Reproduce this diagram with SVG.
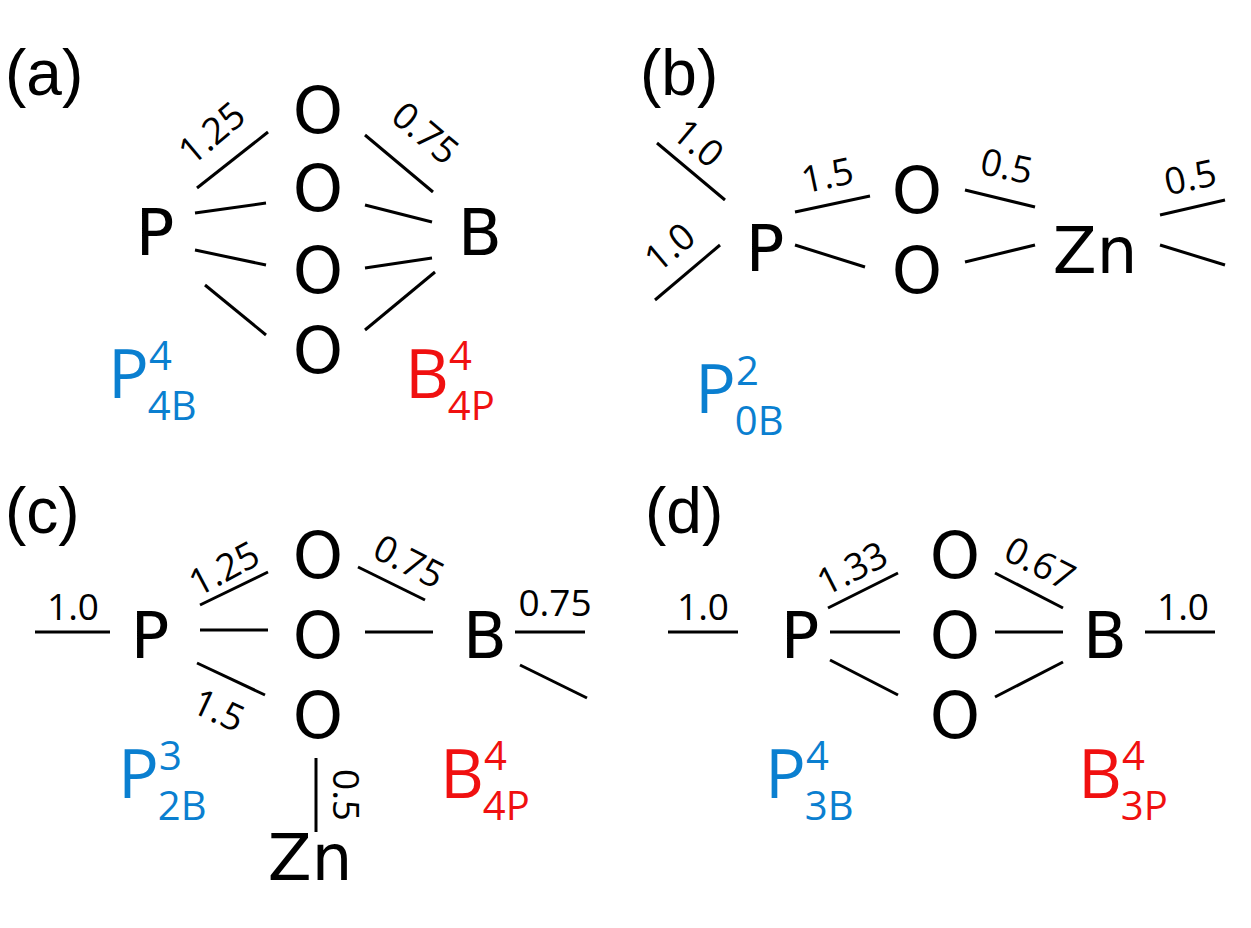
<svg xmlns="http://www.w3.org/2000/svg" width="1251" height="928" viewBox="0 0 1251 928">
<style>
.a{font-family:"DejaVu Sans","Liberation Sans",sans-serif;font-size:64px;fill:#000;text-anchor:middle}
.t{font-family:"Liberation Sans",sans-serif;font-size:64px;fill:#000}
.n{font-family:"Open Sans","Liberation Sans",sans-serif;font-size:37px;fill:#000;text-anchor:middle}
.bl{fill:#0a7fd0}.rd{fill:#f01010}
.lab{font-family:"Open Sans","Liberation Sans",sans-serif;font-size:68px}
.sub{font-size:40px}
line{stroke:#000;stroke-width:3}
</style>
<g id="panel-labels">
<text class="t" x="5" y="95">(a)</text>
<text class="t" x="640" y="95">(b)</text>
<text class="t" x="5" y="533">(c)</text>
<text class="t" x="645" y="533">(d)</text>
</g>
<g id="nodes-a">
<text class="a" x="318" y="133">O</text><text class="a" x="318" y="211">O</text>
<text class="a" x="318" y="293">O</text><text class="a" x="318" y="373">O</text>
<text class="a" x="155" y="255">P</text><text class="a" x="480" y="255">B</text>
<text class="lab bl" x="108" y="398">P<tspan class="sub" dy="-28">4</tspan><tspan class="sub" dx="-24" dy="50">4B</tspan></text>
<text class="lab rd" x="405" y="398">B<tspan class="sub" dy="-28">4</tspan><tspan class="sub" dx="-24" dy="50">4P</tspan></text>
</g>
<g id="nodes-b">
<text class="a" x="765" y="271">P</text><text class="a" x="917" y="213">O</text>
<text class="a" x="917" y="293">O</text><text class="a" x="1095" y="273">Zn</text>
<text class="lab bl" x="695" y="413">P<tspan class="sub" dy="-28">2</tspan><tspan class="sub" dx="-24" dy="50">0B</tspan></text>
</g>
<g id="nodes-c">
<text class="a" x="150" y="658">P</text><text class="a" x="318" y="578">O</text>
<text class="a" x="318" y="658">O</text><text class="a" x="318" y="738">O</text>
<text class="a" x="485" y="658">B</text><text class="a" x="310" y="880">Zn</text>
<text class="lab bl" x="118" y="798">P<tspan class="sub" dy="-28">3</tspan><tspan class="sub" dx="-24" dy="50">2B</tspan></text>
<text class="lab rd" x="440" y="798">B<tspan class="sub" dy="-28">4</tspan><tspan class="sub" dx="-24" dy="50">4P</tspan></text>
</g>
<g id="nodes-d">
<text class="a" x="800" y="658">P</text><text class="a" x="955" y="578">O</text>
<text class="a" x="955" y="658">O</text><text class="a" x="955" y="738">O</text>
<text class="a" x="1105" y="658">B</text>
<text class="lab bl" x="765" y="798">P<tspan class="sub" dy="-28">4</tspan><tspan class="sub" dx="-24" dy="50">3B</tspan></text>
<text class="lab rd" x="1078" y="798">B<tspan class="sub" dy="-28">4</tspan><tspan class="sub" dx="-24" dy="50">3P</tspan></text>
</g>
<g id="connectors">
<line x1="197" y1="188" x2="268" y2="132"/><line x1="195" y1="213" x2="266" y2="203"/>
<line x1="195" y1="250" x2="266" y2="265"/><line x1="205" y1="285" x2="266" y2="335"/>
<line x1="365" y1="135" x2="433" y2="192"/><line x1="365" y1="205" x2="432" y2="222"/>
<line x1="365" y1="268" x2="432" y2="258"/><line x1="365" y1="330" x2="435" y2="272"/>
<line x1="657" y1="143" x2="725" y2="200"/><line x1="655" y1="300" x2="720" y2="245"/>
<line x1="795" y1="212" x2="870" y2="196"/><line x1="795" y1="245" x2="865" y2="267"/>
<line x1="965" y1="190" x2="1035" y2="207"/><line x1="965" y1="262" x2="1035" y2="245"/>
<line x1="1160" y1="215" x2="1225" y2="200"/><line x1="1160" y1="245" x2="1225" y2="265"/>
<line x1="35" y1="632" x2="110" y2="632"/><line x1="200" y1="605" x2="268" y2="572"/>
<line x1="200" y1="630" x2="268" y2="630"/><line x1="197" y1="663" x2="265" y2="695"/>
<line x1="358" y1="567" x2="425" y2="600"/><line x1="365" y1="632" x2="433" y2="632"/>
<line x1="515" y1="632" x2="585" y2="632"/><line x1="520" y1="665" x2="587" y2="698"/>
<line x1="316" y1="758" x2="316" y2="832"/>
<line x1="668" y1="632" x2="738" y2="632"/><line x1="828" y1="608" x2="898" y2="573"/>
<line x1="830" y1="632" x2="900" y2="632"/><line x1="830" y1="660" x2="898" y2="695"/>
<line x1="995" y1="573" x2="1063" y2="608"/><line x1="995" y1="632" x2="1063" y2="632"/>
<line x1="995" y1="697" x2="1063" y2="662"/><line x1="1145" y1="632" x2="1215" y2="632"/>
</g>
<g id="edge-labels">
<text class="n" transform="translate(220,143) rotate(-40)">1.25</text>
<text class="n" transform="translate(417,143) rotate(40)">0.75</text>
<text class="n" transform="translate(690,153) rotate(40)">1.0</text>
<text class="n" transform="translate(678,257) rotate(-40)">1.0</text>
<text class="n" transform="translate(830,188) rotate(-12)">1.5</text>
<text class="n" transform="translate(1004,179) rotate(12)">0.5</text>
<text class="n" transform="translate(1193,190) rotate(-12)">0.5</text>
<text class="n" x="73" y="620">1.0</text>
<text class="n" transform="translate(230,580) rotate(-28)">1.25</text>
<text class="n" transform="translate(403,573) rotate(27)">0.75</text>
<text class="n" x="555" y="616">0.75</text>
<text class="n" transform="translate(213,722) rotate(25)">1.5</text>
<text class="n" transform="translate(333,795) rotate(90)">0.5</text>
<text class="n" x="703" y="620">1.0</text>
<text class="n" transform="translate(858,580) rotate(-27)">1.33</text>
<text class="n" transform="translate(1034,575) rotate(27)">0.67</text>
<text class="n" x="1183" y="620">1.0</text>
</g>
</svg>
